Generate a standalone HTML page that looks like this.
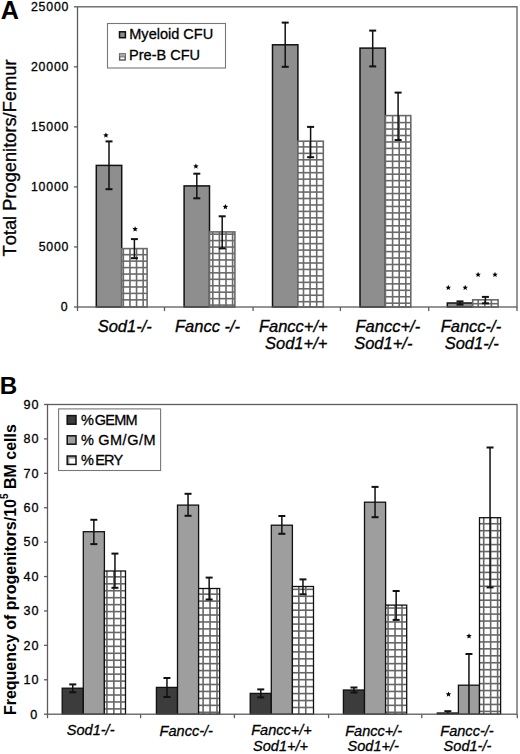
<!DOCTYPE html><html><head><meta charset="utf-8"><style>html,body{margin:0;padding:0;background:#fff;}svg{display:block;font-family:"Liberation Sans",sans-serif;font-kerning:none;}text{stroke:#000;stroke-width:0.3px;} text.b{stroke:none;}</style></head><body>
<svg width="520" height="754" viewBox="0 0 520 754">
<rect width="520" height="754" fill="#fff"/>
<rect x="96.3" y="165.4" width="25.4" height="141.6" fill="#8e8e8e" stroke="#111" stroke-width="1.5"/>
<rect x="121.7" y="248.6" width="25.4" height="58.4" fill="#fff"/>
<line x1="123.35" y1="248.6" x2="123.35" y2="307" stroke="#6a6a6a" stroke-width="1.6"/>
<line x1="129.95" y1="248.6" x2="129.95" y2="307" stroke="#6a6a6a" stroke-width="1.6"/>
<line x1="136.55" y1="248.6" x2="136.55" y2="307" stroke="#6a6a6a" stroke-width="1.6"/>
<line x1="143.15" y1="248.6" x2="143.15" y2="307" stroke="#6a6a6a" stroke-width="1.6"/>
<line x1="121.7" y1="299.85" x2="147.1" y2="299.85" stroke="#6a6a6a" stroke-width="1.6"/>
<line x1="121.7" y1="293.4" x2="147.1" y2="293.4" stroke="#6a6a6a" stroke-width="1.6"/>
<line x1="121.7" y1="286.95" x2="147.1" y2="286.95" stroke="#6a6a6a" stroke-width="1.6"/>
<line x1="121.7" y1="280.5" x2="147.1" y2="280.5" stroke="#6a6a6a" stroke-width="1.6"/>
<line x1="121.7" y1="274.05" x2="147.1" y2="274.05" stroke="#6a6a6a" stroke-width="1.6"/>
<line x1="121.7" y1="267.6" x2="147.1" y2="267.6" stroke="#6a6a6a" stroke-width="1.6"/>
<line x1="121.7" y1="261.15" x2="147.1" y2="261.15" stroke="#6a6a6a" stroke-width="1.6"/>
<line x1="121.7" y1="254.7" x2="147.1" y2="254.7" stroke="#6a6a6a" stroke-width="1.6"/>
<rect x="121.7" y="248.6" width="25.4" height="58.4" fill="none" stroke="#6a6a6a" stroke-width="1.6"/>
<line x1="109" y1="141.4" x2="109" y2="189.2" stroke="#111" stroke-width="1.5"/>
<line x1="105.5" y1="141.4" x2="112.5" y2="141.4" stroke="#111" stroke-width="2"/>
<line x1="105.5" y1="189.2" x2="112.5" y2="189.2" stroke="#111" stroke-width="2"/>
<line x1="134.4" y1="239.1" x2="134.4" y2="258.2" stroke="#111" stroke-width="1.5"/>
<line x1="130.9" y1="239.1" x2="137.9" y2="239.1" stroke="#111" stroke-width="2"/>
<line x1="130.9" y1="258.2" x2="137.9" y2="258.2" stroke="#111" stroke-width="2"/>
<rect x="184.1" y="185.9" width="25.4" height="121.1" fill="#8e8e8e" stroke="#111" stroke-width="1.5"/>
<rect x="209.5" y="231.9" width="25.4" height="75.1" fill="#fff"/>
<line x1="212.8" y1="231.9" x2="212.8" y2="307" stroke="#6a6a6a" stroke-width="1.6"/>
<line x1="219.4" y1="231.9" x2="219.4" y2="307" stroke="#6a6a6a" stroke-width="1.6"/>
<line x1="226" y1="231.9" x2="226" y2="307" stroke="#6a6a6a" stroke-width="1.6"/>
<line x1="232.6" y1="231.9" x2="232.6" y2="307" stroke="#6a6a6a" stroke-width="1.6"/>
<line x1="209.5" y1="305.1" x2="234.9" y2="305.1" stroke="#6a6a6a" stroke-width="1.6"/>
<line x1="209.5" y1="298.65" x2="234.9" y2="298.65" stroke="#6a6a6a" stroke-width="1.6"/>
<line x1="209.5" y1="292.2" x2="234.9" y2="292.2" stroke="#6a6a6a" stroke-width="1.6"/>
<line x1="209.5" y1="285.75" x2="234.9" y2="285.75" stroke="#6a6a6a" stroke-width="1.6"/>
<line x1="209.5" y1="279.3" x2="234.9" y2="279.3" stroke="#6a6a6a" stroke-width="1.6"/>
<line x1="209.5" y1="272.85" x2="234.9" y2="272.85" stroke="#6a6a6a" stroke-width="1.6"/>
<line x1="209.5" y1="266.4" x2="234.9" y2="266.4" stroke="#6a6a6a" stroke-width="1.6"/>
<line x1="209.5" y1="259.95" x2="234.9" y2="259.95" stroke="#6a6a6a" stroke-width="1.6"/>
<line x1="209.5" y1="253.5" x2="234.9" y2="253.5" stroke="#6a6a6a" stroke-width="1.6"/>
<line x1="209.5" y1="247.05" x2="234.9" y2="247.05" stroke="#6a6a6a" stroke-width="1.6"/>
<line x1="209.5" y1="240.6" x2="234.9" y2="240.6" stroke="#6a6a6a" stroke-width="1.6"/>
<line x1="209.5" y1="234.15" x2="234.9" y2="234.15" stroke="#6a6a6a" stroke-width="1.6"/>
<rect x="209.5" y="231.9" width="25.4" height="75.1" fill="none" stroke="#6a6a6a" stroke-width="1.6"/>
<line x1="196.8" y1="173.7" x2="196.8" y2="198.3" stroke="#111" stroke-width="1.5"/>
<line x1="193.3" y1="173.7" x2="200.3" y2="173.7" stroke="#111" stroke-width="2"/>
<line x1="193.3" y1="198.3" x2="200.3" y2="198.3" stroke="#111" stroke-width="2"/>
<line x1="222.2" y1="216.3" x2="222.2" y2="248.4" stroke="#111" stroke-width="1.5"/>
<line x1="218.7" y1="216.3" x2="225.7" y2="216.3" stroke="#111" stroke-width="2"/>
<line x1="218.7" y1="248.4" x2="225.7" y2="248.4" stroke="#111" stroke-width="2"/>
<rect x="272.5" y="44.8" width="25.4" height="262.2" fill="#8e8e8e" stroke="#111" stroke-width="1.5"/>
<rect x="297.9" y="141.2" width="25.4" height="165.8" fill="#fff"/>
<line x1="303.5" y1="141.2" x2="303.5" y2="307" stroke="#6a6a6a" stroke-width="1.6"/>
<line x1="310.1" y1="141.2" x2="310.1" y2="307" stroke="#6a6a6a" stroke-width="1.6"/>
<line x1="316.7" y1="141.2" x2="316.7" y2="307" stroke="#6a6a6a" stroke-width="1.6"/>
<line x1="297.9" y1="301.7" x2="323.3" y2="301.7" stroke="#6a6a6a" stroke-width="1.6"/>
<line x1="297.9" y1="295.25" x2="323.3" y2="295.25" stroke="#6a6a6a" stroke-width="1.6"/>
<line x1="297.9" y1="288.8" x2="323.3" y2="288.8" stroke="#6a6a6a" stroke-width="1.6"/>
<line x1="297.9" y1="282.35" x2="323.3" y2="282.35" stroke="#6a6a6a" stroke-width="1.6"/>
<line x1="297.9" y1="275.9" x2="323.3" y2="275.9" stroke="#6a6a6a" stroke-width="1.6"/>
<line x1="297.9" y1="269.45" x2="323.3" y2="269.45" stroke="#6a6a6a" stroke-width="1.6"/>
<line x1="297.9" y1="263" x2="323.3" y2="263" stroke="#6a6a6a" stroke-width="1.6"/>
<line x1="297.9" y1="256.55" x2="323.3" y2="256.55" stroke="#6a6a6a" stroke-width="1.6"/>
<line x1="297.9" y1="250.1" x2="323.3" y2="250.1" stroke="#6a6a6a" stroke-width="1.6"/>
<line x1="297.9" y1="243.65" x2="323.3" y2="243.65" stroke="#6a6a6a" stroke-width="1.6"/>
<line x1="297.9" y1="237.2" x2="323.3" y2="237.2" stroke="#6a6a6a" stroke-width="1.6"/>
<line x1="297.9" y1="230.75" x2="323.3" y2="230.75" stroke="#6a6a6a" stroke-width="1.6"/>
<line x1="297.9" y1="224.3" x2="323.3" y2="224.3" stroke="#6a6a6a" stroke-width="1.6"/>
<line x1="297.9" y1="217.85" x2="323.3" y2="217.85" stroke="#6a6a6a" stroke-width="1.6"/>
<line x1="297.9" y1="211.4" x2="323.3" y2="211.4" stroke="#6a6a6a" stroke-width="1.6"/>
<line x1="297.9" y1="204.95" x2="323.3" y2="204.95" stroke="#6a6a6a" stroke-width="1.6"/>
<line x1="297.9" y1="198.5" x2="323.3" y2="198.5" stroke="#6a6a6a" stroke-width="1.6"/>
<line x1="297.9" y1="192.05" x2="323.3" y2="192.05" stroke="#6a6a6a" stroke-width="1.6"/>
<line x1="297.9" y1="185.6" x2="323.3" y2="185.6" stroke="#6a6a6a" stroke-width="1.6"/>
<line x1="297.9" y1="179.15" x2="323.3" y2="179.15" stroke="#6a6a6a" stroke-width="1.6"/>
<line x1="297.9" y1="172.7" x2="323.3" y2="172.7" stroke="#6a6a6a" stroke-width="1.6"/>
<line x1="297.9" y1="166.25" x2="323.3" y2="166.25" stroke="#6a6a6a" stroke-width="1.6"/>
<line x1="297.9" y1="159.8" x2="323.3" y2="159.8" stroke="#6a6a6a" stroke-width="1.6"/>
<line x1="297.9" y1="153.35" x2="323.3" y2="153.35" stroke="#6a6a6a" stroke-width="1.6"/>
<line x1="297.9" y1="146.9" x2="323.3" y2="146.9" stroke="#6a6a6a" stroke-width="1.6"/>
<rect x="297.9" y="141.2" width="25.4" height="165.8" fill="none" stroke="#6a6a6a" stroke-width="1.6"/>
<line x1="285.2" y1="22.6" x2="285.2" y2="66.8" stroke="#111" stroke-width="1.5"/>
<line x1="281.7" y1="22.6" x2="288.7" y2="22.6" stroke="#111" stroke-width="2"/>
<line x1="281.7" y1="66.8" x2="288.7" y2="66.8" stroke="#111" stroke-width="2"/>
<line x1="310.6" y1="126.9" x2="310.6" y2="157.2" stroke="#111" stroke-width="1.5"/>
<line x1="307.1" y1="126.9" x2="314.1" y2="126.9" stroke="#111" stroke-width="2"/>
<line x1="307.1" y1="157.2" x2="314.1" y2="157.2" stroke="#111" stroke-width="2"/>
<rect x="360" y="48.1" width="25.4" height="258.9" fill="#8e8e8e" stroke="#111" stroke-width="1.5"/>
<rect x="385.4" y="115.6" width="25.4" height="191.4" fill="#fff"/>
<line x1="392.6" y1="115.6" x2="392.6" y2="307" stroke="#6a6a6a" stroke-width="1.6"/>
<line x1="399.2" y1="115.6" x2="399.2" y2="307" stroke="#6a6a6a" stroke-width="1.6"/>
<line x1="405.8" y1="115.6" x2="405.8" y2="307" stroke="#6a6a6a" stroke-width="1.6"/>
<line x1="385.4" y1="303.2" x2="410.8" y2="303.2" stroke="#6a6a6a" stroke-width="1.6"/>
<line x1="385.4" y1="296.75" x2="410.8" y2="296.75" stroke="#6a6a6a" stroke-width="1.6"/>
<line x1="385.4" y1="290.3" x2="410.8" y2="290.3" stroke="#6a6a6a" stroke-width="1.6"/>
<line x1="385.4" y1="283.85" x2="410.8" y2="283.85" stroke="#6a6a6a" stroke-width="1.6"/>
<line x1="385.4" y1="277.4" x2="410.8" y2="277.4" stroke="#6a6a6a" stroke-width="1.6"/>
<line x1="385.4" y1="270.95" x2="410.8" y2="270.95" stroke="#6a6a6a" stroke-width="1.6"/>
<line x1="385.4" y1="264.5" x2="410.8" y2="264.5" stroke="#6a6a6a" stroke-width="1.6"/>
<line x1="385.4" y1="258.05" x2="410.8" y2="258.05" stroke="#6a6a6a" stroke-width="1.6"/>
<line x1="385.4" y1="251.6" x2="410.8" y2="251.6" stroke="#6a6a6a" stroke-width="1.6"/>
<line x1="385.4" y1="245.15" x2="410.8" y2="245.15" stroke="#6a6a6a" stroke-width="1.6"/>
<line x1="385.4" y1="238.7" x2="410.8" y2="238.7" stroke="#6a6a6a" stroke-width="1.6"/>
<line x1="385.4" y1="232.25" x2="410.8" y2="232.25" stroke="#6a6a6a" stroke-width="1.6"/>
<line x1="385.4" y1="225.8" x2="410.8" y2="225.8" stroke="#6a6a6a" stroke-width="1.6"/>
<line x1="385.4" y1="219.35" x2="410.8" y2="219.35" stroke="#6a6a6a" stroke-width="1.6"/>
<line x1="385.4" y1="212.9" x2="410.8" y2="212.9" stroke="#6a6a6a" stroke-width="1.6"/>
<line x1="385.4" y1="206.45" x2="410.8" y2="206.45" stroke="#6a6a6a" stroke-width="1.6"/>
<line x1="385.4" y1="200" x2="410.8" y2="200" stroke="#6a6a6a" stroke-width="1.6"/>
<line x1="385.4" y1="193.55" x2="410.8" y2="193.55" stroke="#6a6a6a" stroke-width="1.6"/>
<line x1="385.4" y1="187.1" x2="410.8" y2="187.1" stroke="#6a6a6a" stroke-width="1.6"/>
<line x1="385.4" y1="180.65" x2="410.8" y2="180.65" stroke="#6a6a6a" stroke-width="1.6"/>
<line x1="385.4" y1="174.2" x2="410.8" y2="174.2" stroke="#6a6a6a" stroke-width="1.6"/>
<line x1="385.4" y1="167.75" x2="410.8" y2="167.75" stroke="#6a6a6a" stroke-width="1.6"/>
<line x1="385.4" y1="161.3" x2="410.8" y2="161.3" stroke="#6a6a6a" stroke-width="1.6"/>
<line x1="385.4" y1="154.85" x2="410.8" y2="154.85" stroke="#6a6a6a" stroke-width="1.6"/>
<line x1="385.4" y1="148.4" x2="410.8" y2="148.4" stroke="#6a6a6a" stroke-width="1.6"/>
<line x1="385.4" y1="141.95" x2="410.8" y2="141.95" stroke="#6a6a6a" stroke-width="1.6"/>
<line x1="385.4" y1="135.5" x2="410.8" y2="135.5" stroke="#6a6a6a" stroke-width="1.6"/>
<line x1="385.4" y1="129.05" x2="410.8" y2="129.05" stroke="#6a6a6a" stroke-width="1.6"/>
<line x1="385.4" y1="122.6" x2="410.8" y2="122.6" stroke="#6a6a6a" stroke-width="1.6"/>
<rect x="385.4" y="115.6" width="25.4" height="191.4" fill="none" stroke="#6a6a6a" stroke-width="1.6"/>
<line x1="372.7" y1="30.6" x2="372.7" y2="66.4" stroke="#111" stroke-width="1.5"/>
<line x1="369.2" y1="30.6" x2="376.2" y2="30.6" stroke="#111" stroke-width="2"/>
<line x1="369.2" y1="66.4" x2="376.2" y2="66.4" stroke="#111" stroke-width="2"/>
<line x1="398.1" y1="92.6" x2="398.1" y2="140" stroke="#111" stroke-width="1.5"/>
<line x1="394.6" y1="92.6" x2="401.6" y2="92.6" stroke="#111" stroke-width="2"/>
<line x1="394.6" y1="140" x2="401.6" y2="140" stroke="#111" stroke-width="2"/>
<rect x="447.3" y="303" width="25.4" height="4" fill="#8e8e8e" stroke="#111" stroke-width="1.5"/>
<rect x="472.7" y="299.8" width="25.4" height="7.2" fill="#fff"/>
<line x1="478.2" y1="299.8" x2="478.2" y2="307" stroke="#6a6a6a" stroke-width="1.6"/>
<line x1="484.8" y1="299.8" x2="484.8" y2="307" stroke="#6a6a6a" stroke-width="1.6"/>
<line x1="491.4" y1="299.8" x2="491.4" y2="307" stroke="#6a6a6a" stroke-width="1.6"/>
<line x1="472.7" y1="303.7" x2="498.1" y2="303.7" stroke="#6a6a6a" stroke-width="1.6"/>
<rect x="472.7" y="299.8" width="25.4" height="7.2" fill="none" stroke="#6a6a6a" stroke-width="1.6"/>
<line x1="460" y1="301.4" x2="460" y2="304.6" stroke="#111" stroke-width="1.5"/>
<line x1="456.5" y1="301.4" x2="463.5" y2="301.4" stroke="#111" stroke-width="2"/>
<line x1="456.5" y1="304.6" x2="463.5" y2="304.6" stroke="#111" stroke-width="2"/>
<line x1="485.4" y1="296.9" x2="485.4" y2="303.3" stroke="#111" stroke-width="1.5"/>
<line x1="481.9" y1="296.9" x2="488.9" y2="296.9" stroke="#111" stroke-width="2"/>
<line x1="481.9" y1="303.3" x2="488.9" y2="303.3" stroke="#111" stroke-width="2"/>
<rect x="77.5" y="6.8" width="439.5" height="300.2" fill="none" stroke="#5c5c5c" stroke-width="1.3"/>
<line x1="74" y1="6.8" x2="77.5" y2="6.8" stroke="#5c5c5c" stroke-width="1.3"/>
<text x="69.2" y="10.9" font-size="12.3" text-anchor="end" font-weight="normal" font-style="normal" letter-spacing="0.8">25000</text>
<line x1="74" y1="66.84" x2="77.5" y2="66.84" stroke="#5c5c5c" stroke-width="1.3"/>
<text x="69.2" y="70.94" font-size="12.3" text-anchor="end" font-weight="normal" font-style="normal" letter-spacing="0.8">20000</text>
<line x1="74" y1="126.88" x2="77.5" y2="126.88" stroke="#5c5c5c" stroke-width="1.3"/>
<text x="69.2" y="130.98" font-size="12.3" text-anchor="end" font-weight="normal" font-style="normal" letter-spacing="0.8">15000</text>
<line x1="74" y1="186.92" x2="77.5" y2="186.92" stroke="#5c5c5c" stroke-width="1.3"/>
<text x="69.2" y="191.02" font-size="12.3" text-anchor="end" font-weight="normal" font-style="normal" letter-spacing="0.8">10000</text>
<line x1="74" y1="246.96" x2="77.5" y2="246.96" stroke="#5c5c5c" stroke-width="1.3"/>
<text x="69.2" y="251.06" font-size="12.3" text-anchor="end" font-weight="normal" font-style="normal" letter-spacing="0.8">5000</text>
<line x1="74" y1="307" x2="77.5" y2="307" stroke="#5c5c5c" stroke-width="1.3"/>
<text x="68.5" y="311.1" font-size="12.3" text-anchor="end" font-weight="normal" font-style="normal" letter-spacing="0.8">0</text>
<line x1="77.5" y1="307" x2="77.5" y2="311" stroke="#5c5c5c" stroke-width="1.3"/>
<line x1="164.5" y1="307" x2="164.5" y2="311" stroke="#5c5c5c" stroke-width="1.3"/>
<line x1="253.1" y1="307" x2="253.1" y2="311" stroke="#5c5c5c" stroke-width="1.3"/>
<line x1="340.4" y1="307" x2="340.4" y2="311" stroke="#5c5c5c" stroke-width="1.3"/>
<line x1="428.7" y1="307" x2="428.7" y2="311" stroke="#5c5c5c" stroke-width="1.3"/>
<line x1="517" y1="307" x2="517" y2="311" stroke="#5c5c5c" stroke-width="1.3"/>
<polygon points="105.9,132.4 106.67,134.24 108.66,134.4 107.14,135.7 107.6,137.65 105.9,136.61 104.2,137.65 104.66,135.7 103.14,134.4 105.13,134.24" fill="#000"/>
<polygon points="135.1,226.2 135.87,228.04 137.86,228.2 136.34,229.5 136.8,231.45 135.1,230.41 133.4,231.45 133.86,229.5 132.34,228.2 134.33,228.04" fill="#000"/>
<polygon points="195.9,163.4 196.67,165.24 198.66,165.4 197.14,166.7 197.6,168.65 195.9,167.61 194.2,168.65 194.66,166.7 193.14,165.4 195.13,165.24" fill="#000"/>
<polygon points="225.4,204 226.17,205.84 228.16,206 226.64,207.3 227.1,209.25 225.4,208.21 223.7,209.25 224.16,207.3 222.64,206 224.63,205.84" fill="#000"/>
<polygon points="448.3,284.8 449.07,286.64 451.06,286.8 449.54,288.1 450,290.05 448.3,289 446.6,290.05 447.06,288.1 445.54,286.8 447.53,286.64" fill="#000"/>
<polygon points="465.2,284.8 465.97,286.64 467.96,286.8 466.44,288.1 466.9,290.05 465.2,289 463.5,290.05 463.96,288.1 462.44,286.8 464.43,286.64" fill="#000"/>
<polygon points="478.1,271.8 478.87,273.64 480.86,273.8 479.34,275.1 479.8,277.05 478.1,276 476.4,277.05 476.86,275.1 475.34,273.8 477.33,273.64" fill="#000"/>
<polygon points="495,271.8 495.77,273.64 497.76,273.8 496.24,275.1 496.7,277.05 495,276 493.3,277.05 493.76,275.1 492.24,273.8 494.23,273.64" fill="#000"/>
<text x="97.7" y="331.8" font-size="16.5" text-anchor="start" font-weight="normal" font-style="italic" >Sod1-/-</text>
<text x="175" y="331.8" font-size="16.5" text-anchor="start" font-weight="normal" font-style="italic" >Fancc -/-</text>
<text x="258.9" y="331.5" font-size="16.5" text-anchor="start" font-weight="normal" font-style="italic" >Fancc+/+</text>
<text x="265" y="348.6" font-size="16.5" text-anchor="start" font-weight="normal" font-style="italic" >Sod1+/+</text>
<text x="355.5" y="331.5" font-size="16.5" text-anchor="start" font-weight="normal" font-style="italic" >Fancc+/-</text>
<text x="354.2" y="348.6" font-size="16.5" text-anchor="start" font-weight="normal" font-style="italic" >Sod1+/-</text>
<text x="440.7" y="332" font-size="16.5" text-anchor="start" font-weight="normal" font-style="italic" >Fancc-/-</text>
<text x="444.7" y="348.7" font-size="16.5" text-anchor="start" font-weight="normal" font-style="italic" >Sod1-/-</text>
<text transform="translate(15.6,158) rotate(-90)" font-size="18.27" text-anchor="middle">Total Progenitors/Femur</text>
<text x="0.7" y="19" font-size="25.2" text-anchor="start" font-weight="bold" font-style="normal"  class="b">A</text>
<rect x="107.5" y="23.5" width="118" height="44.5" fill="#fff" stroke="#777" stroke-width="1.1"/>
<rect x="119.5" y="31.8" width="5.9" height="5.9" fill="#8e8e8e" stroke="#111" stroke-width="1.5"/>
<rect x="119.6" y="53.9" width="5.6" height="6.1" fill="#fff" stroke="#555" stroke-width="1.4"/>
<line x1="119.6" y1="56.8" x2="125.2" y2="56.8" stroke="#777" stroke-width="1.3"/>
<rect x="119.6" y="53.9" width="5.6" height="2.2" fill="#aaa"/>
<text x="129.29" y="38.6" font-size="14.53" text-anchor="start" font-weight="normal" font-style="normal" >Myeloid CFU</text>
<text x="129.02" y="59.8" font-size="14.54" text-anchor="start" font-weight="normal" font-style="normal" >Pre-B CFU</text>
<rect x="62.2" y="688.2" width="21.1" height="26" fill="#3c3c3c" stroke="#111" stroke-width="1.3"/>
<rect x="83.3" y="531.7" width="21.1" height="182.5" fill="#9e9e9e" stroke="#111" stroke-width="1.3"/>
<rect x="104.4" y="571" width="21.1" height="143.2" fill="#fff"/>
<line x1="106.9" y1="571" x2="106.9" y2="714.2" stroke="#666666" stroke-width="1.6"/>
<line x1="113.85" y1="571" x2="113.85" y2="714.2" stroke="#666666" stroke-width="1.6"/>
<line x1="120.8" y1="571" x2="120.8" y2="714.2" stroke="#666666" stroke-width="1.6"/>
<line x1="104.4" y1="708.9" x2="125.5" y2="708.9" stroke="#666666" stroke-width="1.6"/>
<line x1="104.4" y1="701.95" x2="125.5" y2="701.95" stroke="#666666" stroke-width="1.6"/>
<line x1="104.4" y1="695" x2="125.5" y2="695" stroke="#666666" stroke-width="1.6"/>
<line x1="104.4" y1="688.05" x2="125.5" y2="688.05" stroke="#666666" stroke-width="1.6"/>
<line x1="104.4" y1="681.1" x2="125.5" y2="681.1" stroke="#666666" stroke-width="1.6"/>
<line x1="104.4" y1="674.15" x2="125.5" y2="674.15" stroke="#666666" stroke-width="1.6"/>
<line x1="104.4" y1="667.2" x2="125.5" y2="667.2" stroke="#666666" stroke-width="1.6"/>
<line x1="104.4" y1="660.25" x2="125.5" y2="660.25" stroke="#666666" stroke-width="1.6"/>
<line x1="104.4" y1="653.3" x2="125.5" y2="653.3" stroke="#666666" stroke-width="1.6"/>
<line x1="104.4" y1="646.35" x2="125.5" y2="646.35" stroke="#666666" stroke-width="1.6"/>
<line x1="104.4" y1="639.4" x2="125.5" y2="639.4" stroke="#666666" stroke-width="1.6"/>
<line x1="104.4" y1="632.45" x2="125.5" y2="632.45" stroke="#666666" stroke-width="1.6"/>
<line x1="104.4" y1="625.5" x2="125.5" y2="625.5" stroke="#666666" stroke-width="1.6"/>
<line x1="104.4" y1="618.55" x2="125.5" y2="618.55" stroke="#666666" stroke-width="1.6"/>
<line x1="104.4" y1="611.6" x2="125.5" y2="611.6" stroke="#666666" stroke-width="1.6"/>
<line x1="104.4" y1="604.65" x2="125.5" y2="604.65" stroke="#666666" stroke-width="1.6"/>
<line x1="104.4" y1="597.7" x2="125.5" y2="597.7" stroke="#666666" stroke-width="1.6"/>
<line x1="104.4" y1="590.75" x2="125.5" y2="590.75" stroke="#666666" stroke-width="1.6"/>
<line x1="104.4" y1="583.8" x2="125.5" y2="583.8" stroke="#666666" stroke-width="1.6"/>
<line x1="104.4" y1="576.85" x2="125.5" y2="576.85" stroke="#666666" stroke-width="1.6"/>
<rect x="104.4" y="571" width="21.1" height="143.2" fill="none" stroke="#111" stroke-width="1.3"/>
<line x1="72.75" y1="684.4" x2="72.75" y2="692.3" stroke="#111" stroke-width="1.5"/>
<line x1="69.25" y1="684.4" x2="76.25" y2="684.4" stroke="#111" stroke-width="2"/>
<line x1="69.25" y1="692.3" x2="76.25" y2="692.3" stroke="#111" stroke-width="2"/>
<line x1="93.85" y1="519.8" x2="93.85" y2="544.1" stroke="#111" stroke-width="1.5"/>
<line x1="90.35" y1="519.8" x2="97.35" y2="519.8" stroke="#111" stroke-width="2"/>
<line x1="90.35" y1="544.1" x2="97.35" y2="544.1" stroke="#111" stroke-width="2"/>
<line x1="114.95" y1="553.6" x2="114.95" y2="587.8" stroke="#111" stroke-width="1.5"/>
<line x1="111.45" y1="553.6" x2="118.45" y2="553.6" stroke="#111" stroke-width="2"/>
<line x1="111.45" y1="587.8" x2="118.45" y2="587.8" stroke="#111" stroke-width="2"/>
<rect x="156.4" y="687.4" width="21.1" height="26.8" fill="#3c3c3c" stroke="#111" stroke-width="1.3"/>
<rect x="177.5" y="505.1" width="21.1" height="209.1" fill="#9e9e9e" stroke="#111" stroke-width="1.3"/>
<rect x="198.6" y="588.5" width="21.1" height="125.7" fill="#fff"/>
<line x1="203.1" y1="588.5" x2="203.1" y2="714.2" stroke="#666666" stroke-width="1.6"/>
<line x1="210.05" y1="588.5" x2="210.05" y2="714.2" stroke="#666666" stroke-width="1.6"/>
<line x1="217" y1="588.5" x2="217" y2="714.2" stroke="#666666" stroke-width="1.6"/>
<line x1="198.6" y1="712.3" x2="219.7" y2="712.3" stroke="#666666" stroke-width="1.6"/>
<line x1="198.6" y1="705.35" x2="219.7" y2="705.35" stroke="#666666" stroke-width="1.6"/>
<line x1="198.6" y1="698.4" x2="219.7" y2="698.4" stroke="#666666" stroke-width="1.6"/>
<line x1="198.6" y1="691.45" x2="219.7" y2="691.45" stroke="#666666" stroke-width="1.6"/>
<line x1="198.6" y1="684.5" x2="219.7" y2="684.5" stroke="#666666" stroke-width="1.6"/>
<line x1="198.6" y1="677.55" x2="219.7" y2="677.55" stroke="#666666" stroke-width="1.6"/>
<line x1="198.6" y1="670.6" x2="219.7" y2="670.6" stroke="#666666" stroke-width="1.6"/>
<line x1="198.6" y1="663.65" x2="219.7" y2="663.65" stroke="#666666" stroke-width="1.6"/>
<line x1="198.6" y1="656.7" x2="219.7" y2="656.7" stroke="#666666" stroke-width="1.6"/>
<line x1="198.6" y1="649.75" x2="219.7" y2="649.75" stroke="#666666" stroke-width="1.6"/>
<line x1="198.6" y1="642.8" x2="219.7" y2="642.8" stroke="#666666" stroke-width="1.6"/>
<line x1="198.6" y1="635.85" x2="219.7" y2="635.85" stroke="#666666" stroke-width="1.6"/>
<line x1="198.6" y1="628.9" x2="219.7" y2="628.9" stroke="#666666" stroke-width="1.6"/>
<line x1="198.6" y1="621.95" x2="219.7" y2="621.95" stroke="#666666" stroke-width="1.6"/>
<line x1="198.6" y1="615" x2="219.7" y2="615" stroke="#666666" stroke-width="1.6"/>
<line x1="198.6" y1="608.05" x2="219.7" y2="608.05" stroke="#666666" stroke-width="1.6"/>
<line x1="198.6" y1="601.1" x2="219.7" y2="601.1" stroke="#666666" stroke-width="1.6"/>
<line x1="198.6" y1="594.15" x2="219.7" y2="594.15" stroke="#666666" stroke-width="1.6"/>
<rect x="198.6" y="588.5" width="21.1" height="125.7" fill="none" stroke="#111" stroke-width="1.3"/>
<line x1="166.95" y1="678" x2="166.95" y2="697" stroke="#111" stroke-width="1.5"/>
<line x1="163.45" y1="678" x2="170.45" y2="678" stroke="#111" stroke-width="2"/>
<line x1="163.45" y1="697" x2="170.45" y2="697" stroke="#111" stroke-width="2"/>
<line x1="188.05" y1="493.8" x2="188.05" y2="515.8" stroke="#111" stroke-width="1.5"/>
<line x1="184.55" y1="493.8" x2="191.55" y2="493.8" stroke="#111" stroke-width="2"/>
<line x1="184.55" y1="515.8" x2="191.55" y2="515.8" stroke="#111" stroke-width="2"/>
<line x1="209.15" y1="577.6" x2="209.15" y2="599.5" stroke="#111" stroke-width="1.5"/>
<line x1="205.65" y1="577.6" x2="212.65" y2="577.6" stroke="#111" stroke-width="2"/>
<line x1="205.65" y1="599.5" x2="212.65" y2="599.5" stroke="#111" stroke-width="2"/>
<rect x="250.2" y="693.4" width="21.1" height="20.8" fill="#3c3c3c" stroke="#111" stroke-width="1.3"/>
<rect x="271.3" y="525.2" width="21.1" height="189" fill="#9e9e9e" stroke="#111" stroke-width="1.3"/>
<rect x="292.4" y="586.5" width="21.1" height="127.7" fill="#fff"/>
<line x1="298.8" y1="586.5" x2="298.8" y2="714.2" stroke="#666666" stroke-width="1.6"/>
<line x1="305.75" y1="586.5" x2="305.75" y2="714.2" stroke="#666666" stroke-width="1.6"/>
<line x1="292.4" y1="707.5" x2="313.5" y2="707.5" stroke="#666666" stroke-width="1.6"/>
<line x1="292.4" y1="700.55" x2="313.5" y2="700.55" stroke="#666666" stroke-width="1.6"/>
<line x1="292.4" y1="693.6" x2="313.5" y2="693.6" stroke="#666666" stroke-width="1.6"/>
<line x1="292.4" y1="686.65" x2="313.5" y2="686.65" stroke="#666666" stroke-width="1.6"/>
<line x1="292.4" y1="679.7" x2="313.5" y2="679.7" stroke="#666666" stroke-width="1.6"/>
<line x1="292.4" y1="672.75" x2="313.5" y2="672.75" stroke="#666666" stroke-width="1.6"/>
<line x1="292.4" y1="665.8" x2="313.5" y2="665.8" stroke="#666666" stroke-width="1.6"/>
<line x1="292.4" y1="658.85" x2="313.5" y2="658.85" stroke="#666666" stroke-width="1.6"/>
<line x1="292.4" y1="651.9" x2="313.5" y2="651.9" stroke="#666666" stroke-width="1.6"/>
<line x1="292.4" y1="644.95" x2="313.5" y2="644.95" stroke="#666666" stroke-width="1.6"/>
<line x1="292.4" y1="638" x2="313.5" y2="638" stroke="#666666" stroke-width="1.6"/>
<line x1="292.4" y1="631.05" x2="313.5" y2="631.05" stroke="#666666" stroke-width="1.6"/>
<line x1="292.4" y1="624.1" x2="313.5" y2="624.1" stroke="#666666" stroke-width="1.6"/>
<line x1="292.4" y1="617.15" x2="313.5" y2="617.15" stroke="#666666" stroke-width="1.6"/>
<line x1="292.4" y1="610.2" x2="313.5" y2="610.2" stroke="#666666" stroke-width="1.6"/>
<line x1="292.4" y1="603.25" x2="313.5" y2="603.25" stroke="#666666" stroke-width="1.6"/>
<line x1="292.4" y1="596.3" x2="313.5" y2="596.3" stroke="#666666" stroke-width="1.6"/>
<line x1="292.4" y1="589.35" x2="313.5" y2="589.35" stroke="#666666" stroke-width="1.6"/>
<rect x="292.4" y="586.5" width="21.1" height="127.7" fill="none" stroke="#111" stroke-width="1.3"/>
<line x1="260.75" y1="689.4" x2="260.75" y2="697.4" stroke="#111" stroke-width="1.5"/>
<line x1="257.25" y1="689.4" x2="264.25" y2="689.4" stroke="#111" stroke-width="2"/>
<line x1="257.25" y1="697.4" x2="264.25" y2="697.4" stroke="#111" stroke-width="2"/>
<line x1="281.85" y1="516" x2="281.85" y2="533.8" stroke="#111" stroke-width="1.5"/>
<line x1="278.35" y1="516" x2="285.35" y2="516" stroke="#111" stroke-width="2"/>
<line x1="278.35" y1="533.8" x2="285.35" y2="533.8" stroke="#111" stroke-width="2"/>
<line x1="302.95" y1="579.4" x2="302.95" y2="594.3" stroke="#111" stroke-width="1.5"/>
<line x1="299.45" y1="579.4" x2="306.45" y2="579.4" stroke="#111" stroke-width="2"/>
<line x1="299.45" y1="594.3" x2="306.45" y2="594.3" stroke="#111" stroke-width="2"/>
<rect x="343.4" y="690" width="21.1" height="24.2" fill="#3c3c3c" stroke="#111" stroke-width="1.3"/>
<rect x="364.5" y="502.2" width="21.1" height="212" fill="#9e9e9e" stroke="#111" stroke-width="1.3"/>
<rect x="385.6" y="605.1" width="21.1" height="109.1" fill="#fff"/>
<line x1="388.1" y1="605.1" x2="388.1" y2="714.2" stroke="#666666" stroke-width="1.6"/>
<line x1="395.05" y1="605.1" x2="395.05" y2="714.2" stroke="#666666" stroke-width="1.6"/>
<line x1="402" y1="605.1" x2="402" y2="714.2" stroke="#666666" stroke-width="1.6"/>
<line x1="385.6" y1="712.3" x2="406.7" y2="712.3" stroke="#666666" stroke-width="1.6"/>
<line x1="385.6" y1="705.35" x2="406.7" y2="705.35" stroke="#666666" stroke-width="1.6"/>
<line x1="385.6" y1="698.4" x2="406.7" y2="698.4" stroke="#666666" stroke-width="1.6"/>
<line x1="385.6" y1="691.45" x2="406.7" y2="691.45" stroke="#666666" stroke-width="1.6"/>
<line x1="385.6" y1="684.5" x2="406.7" y2="684.5" stroke="#666666" stroke-width="1.6"/>
<line x1="385.6" y1="677.55" x2="406.7" y2="677.55" stroke="#666666" stroke-width="1.6"/>
<line x1="385.6" y1="670.6" x2="406.7" y2="670.6" stroke="#666666" stroke-width="1.6"/>
<line x1="385.6" y1="663.65" x2="406.7" y2="663.65" stroke="#666666" stroke-width="1.6"/>
<line x1="385.6" y1="656.7" x2="406.7" y2="656.7" stroke="#666666" stroke-width="1.6"/>
<line x1="385.6" y1="649.75" x2="406.7" y2="649.75" stroke="#666666" stroke-width="1.6"/>
<line x1="385.6" y1="642.8" x2="406.7" y2="642.8" stroke="#666666" stroke-width="1.6"/>
<line x1="385.6" y1="635.85" x2="406.7" y2="635.85" stroke="#666666" stroke-width="1.6"/>
<line x1="385.6" y1="628.9" x2="406.7" y2="628.9" stroke="#666666" stroke-width="1.6"/>
<line x1="385.6" y1="621.95" x2="406.7" y2="621.95" stroke="#666666" stroke-width="1.6"/>
<line x1="385.6" y1="615" x2="406.7" y2="615" stroke="#666666" stroke-width="1.6"/>
<line x1="385.6" y1="608.05" x2="406.7" y2="608.05" stroke="#666666" stroke-width="1.6"/>
<rect x="385.6" y="605.1" width="21.1" height="109.1" fill="none" stroke="#111" stroke-width="1.3"/>
<line x1="353.95" y1="687.5" x2="353.95" y2="692.5" stroke="#111" stroke-width="1.5"/>
<line x1="350.45" y1="687.5" x2="357.45" y2="687.5" stroke="#111" stroke-width="2"/>
<line x1="350.45" y1="692.5" x2="357.45" y2="692.5" stroke="#111" stroke-width="2"/>
<line x1="375.05" y1="486.9" x2="375.05" y2="517.2" stroke="#111" stroke-width="1.5"/>
<line x1="371.55" y1="486.9" x2="378.55" y2="486.9" stroke="#111" stroke-width="2"/>
<line x1="371.55" y1="517.2" x2="378.55" y2="517.2" stroke="#111" stroke-width="2"/>
<line x1="396.15" y1="591" x2="396.15" y2="619.9" stroke="#111" stroke-width="1.5"/>
<line x1="392.65" y1="591" x2="399.65" y2="591" stroke="#111" stroke-width="2"/>
<line x1="392.65" y1="619.9" x2="399.65" y2="619.9" stroke="#111" stroke-width="2"/>
<rect x="437.3" y="713" width="21.1" height="1.2" fill="#3c3c3c" stroke="#111" stroke-width="1.3"/>
<rect x="458.4" y="685.2" width="21.1" height="29" fill="#9e9e9e" stroke="#111" stroke-width="1.3"/>
<rect x="479.5" y="517.7" width="21.1" height="196.5" fill="#fff"/>
<line x1="483.7" y1="517.7" x2="483.7" y2="714.2" stroke="#666666" stroke-width="1.6"/>
<line x1="490.65" y1="517.7" x2="490.65" y2="714.2" stroke="#666666" stroke-width="1.6"/>
<line x1="497.6" y1="517.7" x2="497.6" y2="714.2" stroke="#666666" stroke-width="1.6"/>
<line x1="479.5" y1="711.4" x2="500.6" y2="711.4" stroke="#666666" stroke-width="1.6"/>
<line x1="479.5" y1="704.45" x2="500.6" y2="704.45" stroke="#666666" stroke-width="1.6"/>
<line x1="479.5" y1="697.5" x2="500.6" y2="697.5" stroke="#666666" stroke-width="1.6"/>
<line x1="479.5" y1="690.55" x2="500.6" y2="690.55" stroke="#666666" stroke-width="1.6"/>
<line x1="479.5" y1="683.6" x2="500.6" y2="683.6" stroke="#666666" stroke-width="1.6"/>
<line x1="479.5" y1="676.65" x2="500.6" y2="676.65" stroke="#666666" stroke-width="1.6"/>
<line x1="479.5" y1="669.7" x2="500.6" y2="669.7" stroke="#666666" stroke-width="1.6"/>
<line x1="479.5" y1="662.75" x2="500.6" y2="662.75" stroke="#666666" stroke-width="1.6"/>
<line x1="479.5" y1="655.8" x2="500.6" y2="655.8" stroke="#666666" stroke-width="1.6"/>
<line x1="479.5" y1="648.85" x2="500.6" y2="648.85" stroke="#666666" stroke-width="1.6"/>
<line x1="479.5" y1="641.9" x2="500.6" y2="641.9" stroke="#666666" stroke-width="1.6"/>
<line x1="479.5" y1="634.95" x2="500.6" y2="634.95" stroke="#666666" stroke-width="1.6"/>
<line x1="479.5" y1="628" x2="500.6" y2="628" stroke="#666666" stroke-width="1.6"/>
<line x1="479.5" y1="621.05" x2="500.6" y2="621.05" stroke="#666666" stroke-width="1.6"/>
<line x1="479.5" y1="614.1" x2="500.6" y2="614.1" stroke="#666666" stroke-width="1.6"/>
<line x1="479.5" y1="607.15" x2="500.6" y2="607.15" stroke="#666666" stroke-width="1.6"/>
<line x1="479.5" y1="600.2" x2="500.6" y2="600.2" stroke="#666666" stroke-width="1.6"/>
<line x1="479.5" y1="593.25" x2="500.6" y2="593.25" stroke="#666666" stroke-width="1.6"/>
<line x1="479.5" y1="586.3" x2="500.6" y2="586.3" stroke="#666666" stroke-width="1.6"/>
<line x1="479.5" y1="579.35" x2="500.6" y2="579.35" stroke="#666666" stroke-width="1.6"/>
<line x1="479.5" y1="572.4" x2="500.6" y2="572.4" stroke="#666666" stroke-width="1.6"/>
<line x1="479.5" y1="565.45" x2="500.6" y2="565.45" stroke="#666666" stroke-width="1.6"/>
<line x1="479.5" y1="558.5" x2="500.6" y2="558.5" stroke="#666666" stroke-width="1.6"/>
<line x1="479.5" y1="551.55" x2="500.6" y2="551.55" stroke="#666666" stroke-width="1.6"/>
<line x1="479.5" y1="544.6" x2="500.6" y2="544.6" stroke="#666666" stroke-width="1.6"/>
<line x1="479.5" y1="537.65" x2="500.6" y2="537.65" stroke="#666666" stroke-width="1.6"/>
<line x1="479.5" y1="530.7" x2="500.6" y2="530.7" stroke="#666666" stroke-width="1.6"/>
<line x1="479.5" y1="523.75" x2="500.6" y2="523.75" stroke="#666666" stroke-width="1.6"/>
<rect x="479.5" y="517.7" width="21.1" height="196.5" fill="none" stroke="#111" stroke-width="1.3"/>
<line x1="447.85" y1="711.2" x2="447.85" y2="714.2" stroke="#111" stroke-width="1.5"/>
<line x1="444.35" y1="711.2" x2="451.35" y2="711.2" stroke="#111" stroke-width="2"/>
<line x1="468.95" y1="654" x2="468.95" y2="714.2" stroke="#111" stroke-width="1.5"/>
<line x1="465.45" y1="654" x2="472.45" y2="654" stroke="#111" stroke-width="2"/>
<line x1="490.05" y1="447.5" x2="490.05" y2="587.4" stroke="#111" stroke-width="1.5"/>
<line x1="486.55" y1="447.5" x2="493.55" y2="447.5" stroke="#111" stroke-width="2"/>
<line x1="486.55" y1="587.4" x2="493.55" y2="587.4" stroke="#111" stroke-width="2"/>
<rect x="47.5" y="404.5" width="469.5" height="309.7" fill="none" stroke="#5c5c5c" stroke-width="1.3"/>
<line x1="44" y1="404.5" x2="47.5" y2="404.5" stroke="#5c5c5c" stroke-width="1.3"/>
<text x="39.5" y="408.8" font-size="12.6" text-anchor="end" font-weight="normal" font-style="normal" letter-spacing="1.0">90</text>
<line x1="44" y1="438.91" x2="47.5" y2="438.91" stroke="#5c5c5c" stroke-width="1.3"/>
<text x="39.5" y="443.21" font-size="12.6" text-anchor="end" font-weight="normal" font-style="normal" letter-spacing="1.0">80</text>
<line x1="44" y1="473.32" x2="47.5" y2="473.32" stroke="#5c5c5c" stroke-width="1.3"/>
<text x="39.5" y="477.62" font-size="12.6" text-anchor="end" font-weight="normal" font-style="normal" letter-spacing="1.0">70</text>
<line x1="44" y1="507.73" x2="47.5" y2="507.73" stroke="#5c5c5c" stroke-width="1.3"/>
<text x="39.5" y="512.03" font-size="12.6" text-anchor="end" font-weight="normal" font-style="normal" letter-spacing="1.0">60</text>
<line x1="44" y1="542.14" x2="47.5" y2="542.14" stroke="#5c5c5c" stroke-width="1.3"/>
<text x="39.5" y="546.44" font-size="12.6" text-anchor="end" font-weight="normal" font-style="normal" letter-spacing="1.0">50</text>
<line x1="44" y1="576.56" x2="47.5" y2="576.56" stroke="#5c5c5c" stroke-width="1.3"/>
<text x="39.5" y="580.86" font-size="12.6" text-anchor="end" font-weight="normal" font-style="normal" letter-spacing="1.0">40</text>
<line x1="44" y1="610.97" x2="47.5" y2="610.97" stroke="#5c5c5c" stroke-width="1.3"/>
<text x="39.5" y="615.27" font-size="12.6" text-anchor="end" font-weight="normal" font-style="normal" letter-spacing="1.0">30</text>
<line x1="44" y1="645.38" x2="47.5" y2="645.38" stroke="#5c5c5c" stroke-width="1.3"/>
<text x="39.5" y="649.68" font-size="12.6" text-anchor="end" font-weight="normal" font-style="normal" letter-spacing="1.0">20</text>
<line x1="44" y1="679.79" x2="47.5" y2="679.79" stroke="#5c5c5c" stroke-width="1.3"/>
<text x="39.5" y="684.09" font-size="12.6" text-anchor="end" font-weight="normal" font-style="normal" letter-spacing="1.0">10</text>
<line x1="44" y1="714.2" x2="47.5" y2="714.2" stroke="#5c5c5c" stroke-width="1.3"/>
<text x="38.3" y="718.5" font-size="12.6" text-anchor="end" font-weight="normal" font-style="normal" letter-spacing="1.0">0</text>
<line x1="47.5" y1="714.2" x2="47.5" y2="718.2" stroke="#5c5c5c" stroke-width="1.3"/>
<line x1="140.6" y1="714.2" x2="140.6" y2="718.2" stroke="#5c5c5c" stroke-width="1.3"/>
<line x1="234.4" y1="714.2" x2="234.4" y2="718.2" stroke="#5c5c5c" stroke-width="1.3"/>
<line x1="328.6" y1="714.2" x2="328.6" y2="718.2" stroke="#5c5c5c" stroke-width="1.3"/>
<line x1="421.8" y1="714.2" x2="421.8" y2="718.2" stroke="#5c5c5c" stroke-width="1.3"/>
<line x1="517.3" y1="714.2" x2="517.3" y2="718.2" stroke="#5c5c5c" stroke-width="1.3"/>
<polygon points="469,633.2 469.77,635.04 471.76,635.2 470.24,636.5 470.7,638.45 469,637.4 467.3,638.45 467.76,636.5 466.24,635.2 468.23,635.04" fill="#000"/>
<polygon points="448.5,691.4 449.27,693.24 451.26,693.4 449.74,694.7 450.2,696.65 448.5,695.6 446.8,696.65 447.26,694.7 445.74,693.4 447.73,693.24" fill="#000"/>
<text x="66.8" y="735.3" font-size="14.55" text-anchor="start" font-weight="normal" font-style="italic" >Sod1-/-</text>
<text x="159.6" y="735.5" font-size="14.55" text-anchor="start" font-weight="normal" font-style="italic" >Fancc-/-</text>
<text x="251.2" y="735.3" font-size="14.55" text-anchor="start" font-weight="normal" font-style="italic" >Fancc+/+</text>
<text x="253" y="750.6" font-size="14.55" text-anchor="start" font-weight="normal" font-style="italic" >Sod1+/+</text>
<text x="345.2" y="735.5" font-size="14.55" text-anchor="start" font-weight="normal" font-style="italic" >Fancc+/-</text>
<text x="347.5" y="750.6" font-size="14.55" text-anchor="start" font-weight="normal" font-style="italic" >Sod1+/-</text>
<text x="440.3" y="736" font-size="14.55" text-anchor="start" font-weight="normal" font-style="italic" >Fancc-/-</text>
<text x="443.6" y="750.6" font-size="14.55" text-anchor="start" font-weight="normal" font-style="italic" >Sod1-/-</text>
<text class="b" transform="translate(16,569.6) rotate(-90)" font-size="16" font-weight="bold" text-anchor="middle">Frequency of progenitors/10<tspan font-size="10" dy="-8.3">5</tspan><tspan dy="8.3"> BM cells</tspan></text>
<text x="-0.3" y="394.4" font-size="24.2" text-anchor="start" font-weight="bold" font-style="normal"  class="b">B</text>
<rect x="58.6" y="408.9" width="102" height="61.6" fill="#fff" stroke="#777" stroke-width="1.1"/>
<rect x="67.2" y="415.6" width="8.8" height="8.6" fill="#3c3c3c" stroke="#111" stroke-width="1.5"/>
<rect x="67.2" y="435.8" width="8.8" height="8.4" fill="#9e9e9e" stroke="#111" stroke-width="1.5"/>
<rect x="67.2" y="456" width="8.8" height="8.4" fill="#fff"/>
<rect x="67.2" y="456" width="8.8" height="2.6" fill="#999"/>
<rect x="67.2" y="456" width="2.2" height="8.4" fill="#999"/>
<rect x="67.2" y="456" width="8.8" height="8.4" fill="none" stroke="#111" stroke-width="1.5"/>
<text x="80.9" y="424.8" font-size="14.5" text-anchor="start" font-weight="normal" font-style="normal" >%</text>
<text x="94.7" y="424.8" font-size="14.5" text-anchor="start" font-weight="normal" font-style="normal" letter-spacing="-0.75">GEMM</text>
<text x="80.9" y="444.6" font-size="14.5" text-anchor="start" font-weight="normal" font-style="normal" >%</text>
<text x="98.2" y="444.6" font-size="14.5" text-anchor="start" font-weight="normal" font-style="normal" letter-spacing="0.54">GM/G/M</text>
<text x="80.9" y="464.6" font-size="14.5" text-anchor="start" font-weight="normal" font-style="normal" >%</text>
<text x="95.2" y="464.6" font-size="14.5" text-anchor="start" font-weight="normal" font-style="normal" letter-spacing="-0.90">ERY</text>
</svg></body></html>
